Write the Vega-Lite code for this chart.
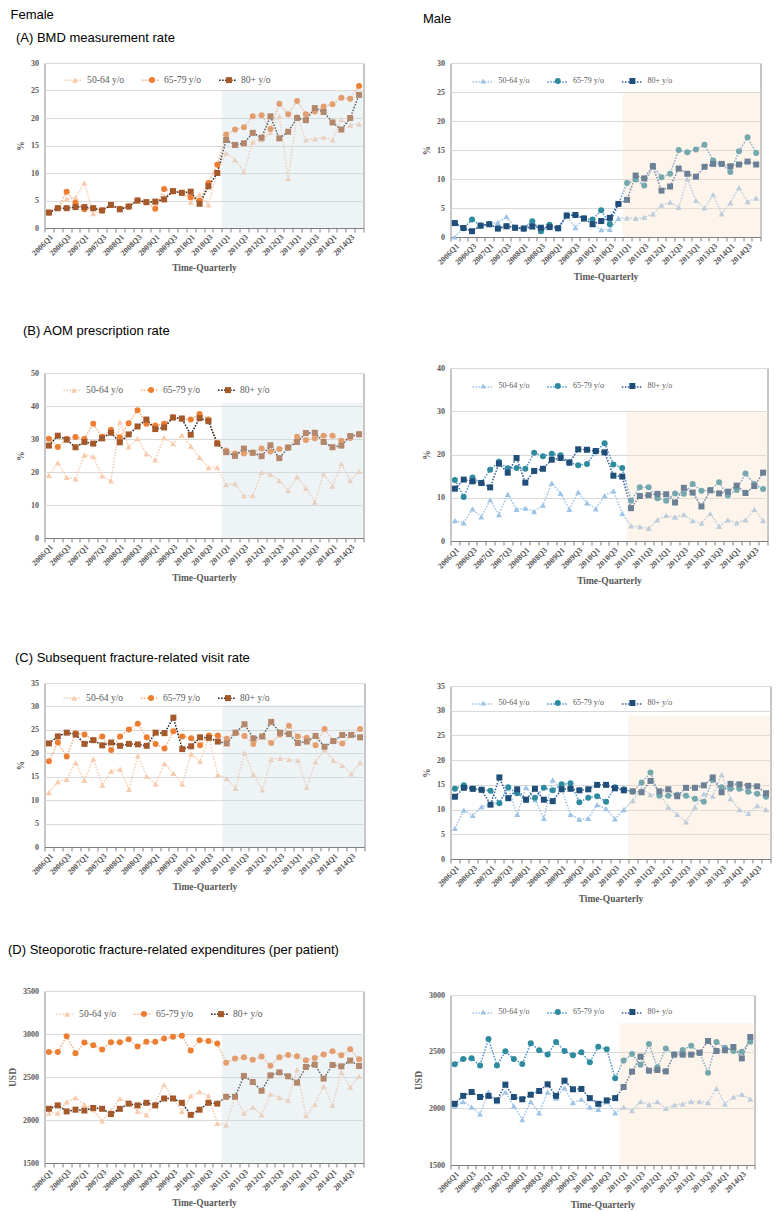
{
"$schema":"https://vega.github.io/schema/vega-lite/v6.json",
"padding":{"left":6.5,"top":8,"right":2,"bottom":2},
"spacing":46,
"resolve":{"scale":{"x":"independent","y":"independent","stroke":"independent","fill":"independent","shape":"independent"},"legend":{"stroke":"independent","fill":"independent","shape":"independent"},"axis":{"x":"independent","y":"independent"}},
"config":{
 "view":{"stroke":"#8c8c8c","strokeWidth":1},
 "font":"Liberation Serif",
 "axis":{"labelFont":"Liberation Serif","labelFontWeight":"bold","labelColor":"#595959","labelFontSize":8,"titleFont":"Liberation Serif","titleFontWeight":"bold","titleColor":"#595959","titleFontSize":9.5},
 "axisX":{"labelAngle":-45,"tickSize":4,"tickColor":"#7f7f7f","domainColor":"#7f7f7f","grid":false,"labelPadding":1,"titlePadding":5},
 "axisY":{"grid":true,"gridColor":"#d9d9d9","ticks":false,"domain":false,"labelPadding":6,"titlePadding":5},
 "title":{"font":"Liberation Sans","fontSize":13,"fontWeight":"normal","anchor":"start","color":"#000000","frame":"bounds"},
 "legend":{"orient":"none","direction":"horizontal","labelFont":"Liberation Serif","labelColor":"#595959","title":null}
},
"hconcat":[
{"title":{"text":"Female","offset":10,"dx":3.5},
 "spacing":51,
 "resolve":{"scale":{"x":"independent","y":"independent","stroke":"independent","fill":"independent","shape":"independent"},"legend":{"stroke":"independent","fill":"independent","shape":"independent"},"axis":{"x":"independent","y":"independent"}},
 "vconcat":[
 {"title":{"text":"(A) BMD measurement rate","offset":14,"dx":0.5},"width":319,"height":165,"data":{"name":"fA"},
  "encoding":{"x":{"field":"q","type":"ordinal","title":"Time-Quarterly","bandPosition":0.5,"scale":{"type":"band","paddingInner":0,"paddingOuter":0,"domain":["2006Q1","2006Q2","2006Q3","2006Q4","2007Q1","2007Q2","2007Q3","2007Q4","2008Q1","2008Q2","2008Q3","2008Q4","2009Q1","2009Q2","2009Q3","2009Q4","2010Q1","2010Q2","2010Q3","2010Q4","2011Q1","2011Q2","2011Q3","2011Q4","2012Q1","2012Q2","2012Q3","2012Q4","2013Q1","2013Q2","2013Q3","2013Q4","2014Q1","2014Q2","2014Q3","2014Q4"]},"axis":{"tickBand":"extent","labelOverlap":false,"labelExpr":"(substring(datum.value,5,6)=='1'||substring(datum.value,5,6)=='3')?datum.value:''"}},
   "y":{"field":"v","type":"quantitative","title":"%","scale":{"domain":[0,30]},"axis":{"values":[0,5,10,15,20,25,30]}}},
  "layer":[
   {"mark":{"type":"line","strokeDash":[1.5,1.5],"strokeWidth":1.5},"encoding":{"stroke":{"field":"g","type":"nominal","scale":{"domain":["50-64 y/o","65-79 y/o","80+ y/o","zz"],"range":["#F8CBAD","#F4B183","#1a1a1a","#ffffff"]},"legend":{"values":["50-64 y/o","65-79 y/o","80+ y/o"],"legendX":19,"legendY":7,"symbolType":"stroke","symbolSize":324,"symbolStrokeWidth":1.5,"symbolDash":[1.5,1.5],"labelOffset":0.5,"labelExpr":"''","labelFontSize":9.6,"columnPadding":53.3}}}},
   {"mark":{"type":"point","filled":true,"size":36,"opacity":1,"strokeWidth":0},"encoding":{"fill":{"field":"g","type":"nominal","scale":{"domain":["50-64 y/o","65-79 y/o","80+ y/o"],"range":["#F8CBAD","#ED7D31","#A5592B"]},"legend":{"legendX":25.75,"legendY":12,"symbolSize":36,"symbolStrokeWidth":0,"labelOffset":7.25,"labelFontSize":9.6,"columnPadding":22.95}},"shape":{"field":"g","type":"nominal","scale":{"domain":["50-64 y/o","65-79 y/o","80+ y/o"],"range":["triangle-up","circle","square"]}}}},
   {"data":{"values":[{"q":"2011Q1","e":"2014Q4","lo":0,"hi":25}]},"mark":{"type":"rect","fill":"#CEDDE5","opacity":0.35},
    "encoding":{"x":{"field":"q","type":"ordinal","title":"Time-Quarterly","bandPosition":0,"scale":{"type":"band","paddingInner":0,"paddingOuter":0,"domain":["2006Q1","2006Q2","2006Q3","2006Q4","2007Q1","2007Q2","2007Q3","2007Q4","2008Q1","2008Q2","2008Q3","2008Q4","2009Q1","2009Q2","2009Q3","2009Q4","2010Q1","2010Q2","2010Q3","2010Q4","2011Q1","2011Q2","2011Q3","2011Q4","2012Q1","2012Q2","2012Q3","2012Q4","2013Q1","2013Q2","2013Q3","2013Q4","2014Q1","2014Q2","2014Q3","2014Q4"]}},"x2":{"field":"e","bandPosition":1},"y":{"field":"lo","type":"quantitative","title":"%"},"y2":{"field":"hi"}}}
  ]},
 {"title":{"text":"(B) AOM prescription rate","offset":31,"dx":7.5},"width":319,"height":165,"data":{"name":"fB"},
  "encoding":{"x":{"field":"q","type":"ordinal","title":"Time-Quarterly","bandPosition":0.5,"scale":{"type":"band","paddingInner":0,"paddingOuter":0,"domain":["2006Q1","2006Q2","2006Q3","2006Q4","2007Q1","2007Q2","2007Q3","2007Q4","2008Q1","2008Q2","2008Q3","2008Q4","2009Q1","2009Q2","2009Q3","2009Q4","2010Q1","2010Q2","2010Q3","2010Q4","2011Q1","2011Q2","2011Q3","2011Q4","2012Q1","2012Q2","2012Q3","2012Q4","2013Q1","2013Q2","2013Q3","2013Q4","2014Q1","2014Q2","2014Q3","2014Q4"]},"axis":{"tickBand":"extent","labelOverlap":false,"labelExpr":"(substring(datum.value,5,6)=='1'||substring(datum.value,5,6)=='3')?datum.value:''"}},
   "y":{"field":"v","type":"quantitative","title":"%","scale":{"domain":[0,50]},"axis":{"values":[0,10,20,30,40,50]}}},
  "layer":[
   {"mark":{"type":"line","strokeDash":[1.5,1.5],"strokeWidth":1.5},"encoding":{"stroke":{"field":"g","type":"nominal","scale":{"domain":["50-64 y/o","65-79 y/o","80+ y/o","zz"],"range":["#F8CBAD","#F4B183","#1a1a1a","#ffffff"]},"legend":{"values":["50-64 y/o","65-79 y/o","80+ y/o"],"legendX":18,"legendY":7,"symbolType":"stroke","symbolSize":324,"symbolStrokeWidth":1.5,"symbolDash":[1.5,1.5],"labelOffset":0.5,"labelExpr":"''","labelFontSize":9.6,"columnPadding":53.3}}}},
   {"mark":{"type":"point","filled":true,"size":36,"opacity":1,"strokeWidth":0},"encoding":{"fill":{"field":"g","type":"nominal","scale":{"domain":["50-64 y/o","65-79 y/o","80+ y/o"],"range":["#F8CBAD","#ED7D31","#A5592B"]},"legend":{"legendX":24.75,"legendY":12,"symbolSize":36,"symbolStrokeWidth":0,"labelOffset":7.25,"labelFontSize":9.6,"columnPadding":22.95}},"shape":{"field":"g","type":"nominal","scale":{"domain":["50-64 y/o","65-79 y/o","80+ y/o"],"range":["triangle-up","circle","square"]}}}},
   {"data":{"values":[{"q":"2011Q1","e":"2014Q4","lo":0,"hi":41}]},"mark":{"type":"rect","fill":"#CEDDE5","opacity":0.35},
    "encoding":{"x":{"field":"q","type":"ordinal","title":"Time-Quarterly","bandPosition":0,"scale":{"type":"band","paddingInner":0,"paddingOuter":0,"domain":["2006Q1","2006Q2","2006Q3","2006Q4","2007Q1","2007Q2","2007Q3","2007Q4","2008Q1","2008Q2","2008Q3","2008Q4","2009Q1","2009Q2","2009Q3","2009Q4","2010Q1","2010Q2","2010Q3","2010Q4","2011Q1","2011Q2","2011Q3","2011Q4","2012Q1","2012Q2","2012Q3","2012Q4","2013Q1","2013Q2","2013Q3","2013Q4","2014Q1","2014Q2","2014Q3","2014Q4"]}},"x2":{"field":"e","bandPosition":1},"y":{"field":"lo","type":"quantitative","title":"%"},"y2":{"field":"hi"}}}
  ]},
 {"title":{"text":["","(C) Subsequent fracture-related visit rate"],"lineHeight":17,"offset":14,"dx":-0.5},"width":320,"height":164,"data":{"name":"fC"},
  "encoding":{"x":{"field":"q","type":"ordinal","title":"Time-Quarterly","bandPosition":0.5,"scale":{"type":"band","paddingInner":0,"paddingOuter":0,"domain":["2006Q1","2006Q2","2006Q3","2006Q4","2007Q1","2007Q2","2007Q3","2007Q4","2008Q1","2008Q2","2008Q3","2008Q4","2009Q1","2009Q2","2009Q3","2009Q4","2010Q1","2010Q2","2010Q3","2010Q4","2011Q1","2011Q2","2011Q3","2011Q4","2012Q1","2012Q2","2012Q3","2012Q4","2013Q1","2013Q2","2013Q3","2013Q4","2014Q1","2014Q2","2014Q3","2014Q4"]},"axis":{"tickBand":"extent","labelOverlap":false,"labelExpr":"(substring(datum.value,5,6)=='1'||substring(datum.value,5,6)=='3')?datum.value:''"}},
   "y":{"field":"v","type":"quantitative","title":"%","scale":{"domain":[0,35]},"axis":{"values":[0,5,10,15,20,25,30,35]}}},
  "layer":[
   {"mark":{"type":"line","strokeDash":[1.5,1.5],"strokeWidth":1.5},"encoding":{"stroke":{"field":"g","type":"nominal","scale":{"domain":["50-64 y/o","65-79 y/o","80+ y/o","zz"],"range":["#F8CBAD","#F4B183","#1a1a1a","#ffffff"]},"legend":{"values":["50-64 y/o","65-79 y/o","80+ y/o"],"legendX":18,"legendY":5,"symbolType":"stroke","symbolSize":324,"symbolStrokeWidth":1.5,"symbolDash":[1.5,1.5],"labelOffset":0.5,"labelExpr":"''","labelFontSize":9.6,"columnPadding":53.3}}}},
   {"mark":{"type":"point","filled":true,"size":36,"opacity":1,"strokeWidth":0},"encoding":{"fill":{"field":"g","type":"nominal","scale":{"domain":["50-64 y/o","65-79 y/o","80+ y/o"],"range":["#F8CBAD","#ED7D31","#A5592B"]},"legend":{"legendX":24.75,"legendY":10,"symbolSize":36,"symbolStrokeWidth":0,"labelOffset":7.25,"labelFontSize":9.6,"columnPadding":22.95}},"shape":{"field":"g","type":"nominal","scale":{"domain":["50-64 y/o","65-79 y/o","80+ y/o"],"range":["triangle-up","circle","square"]}}}},
   {"data":{"values":[{"q":"2011Q1","e":"2014Q4","lo":0,"hi":30.3}]},"mark":{"type":"rect","fill":"#CEDDE5","opacity":0.35},
    "encoding":{"x":{"field":"q","type":"ordinal","title":"Time-Quarterly","bandPosition":0,"scale":{"type":"band","paddingInner":0,"paddingOuter":0,"domain":["2006Q1","2006Q2","2006Q3","2006Q4","2007Q1","2007Q2","2007Q3","2007Q4","2008Q1","2008Q2","2008Q3","2008Q4","2009Q1","2009Q2","2009Q3","2009Q4","2010Q1","2010Q2","2010Q3","2010Q4","2011Q1","2011Q2","2011Q3","2011Q4","2012Q1","2012Q2","2012Q3","2012Q4","2013Q1","2013Q2","2013Q3","2013Q4","2014Q1","2014Q2","2014Q3","2014Q4"]}},"x2":{"field":"e","bandPosition":1},"y":{"field":"lo","type":"quantitative","title":"%"},"y2":{"field":"hi"}}}
  ]},
 {"title":{"text":"(D) Steoporotic fracture-related expenditures (per patient)","offset":30,"dx":0.5},"width":319,"height":172,"data":{"name":"fD"},
  "encoding":{"x":{"field":"q","type":"ordinal","title":"Time-Quarterly","bandPosition":0.5,"scale":{"type":"band","paddingInner":0,"paddingOuter":0,"domain":["2006Q1","2006Q2","2006Q3","2006Q4","2007Q1","2007Q2","2007Q3","2007Q4","2008Q1","2008Q2","2008Q3","2008Q4","2009Q1","2009Q2","2009Q3","2009Q4","2010Q1","2010Q2","2010Q3","2010Q4","2011Q1","2011Q2","2011Q3","2011Q4","2012Q1","2012Q2","2012Q3","2012Q4","2013Q1","2013Q2","2013Q3","2013Q4","2014Q1","2014Q2","2014Q3","2014Q4"]},"axis":{"tickBand":"extent","labelOverlap":false,"labelExpr":"(substring(datum.value,5,6)=='1'||substring(datum.value,5,6)=='3')?datum.value:''"}},
   "y":{"field":"v","type":"quantitative","title":"USD","scale":{"domain":[1500,3500]},"axis":{"values":[1500,2000,2500,3000,3500],"format":"d"}}},
  "layer":[
   {"mark":{"type":"line","strokeDash":[1.5,1.5],"strokeWidth":1.5},"encoding":{"stroke":{"field":"g","type":"nominal","scale":{"domain":["50-64 y/o","65-79 y/o","80+ y/o","zz"],"range":["#F8CBAD","#F4B183","#1a1a1a","#ffffff"]},"legend":{"values":["50-64 y/o","65-79 y/o","80+ y/o"],"legendX":11,"legendY":13,"symbolType":"stroke","symbolSize":324,"symbolStrokeWidth":1.5,"symbolDash":[1.5,1.5],"labelOffset":0.5,"labelExpr":"''","labelFontSize":9.6,"columnPadding":53.3}}}},
   {"mark":{"type":"point","filled":true,"size":36,"opacity":1,"strokeWidth":0},"encoding":{"fill":{"field":"g","type":"nominal","scale":{"domain":["50-64 y/o","65-79 y/o","80+ y/o"],"range":["#F8CBAD","#ED7D31","#A5592B"]},"legend":{"legendX":17.75,"legendY":18,"symbolSize":36,"symbolStrokeWidth":0,"labelOffset":7.25,"labelFontSize":9.6,"columnPadding":22.95}},"shape":{"field":"g","type":"nominal","scale":{"domain":["50-64 y/o","65-79 y/o","80+ y/o"],"range":["triangle-up","circle","square"]}}}},
   {"data":{"values":[{"q":"2011Q1","e":"2014Q4","lo":1500,"hi":3000}]},"mark":{"type":"rect","fill":"#CEDDE5","opacity":0.35},
    "encoding":{"x":{"field":"q","type":"ordinal","title":"Time-Quarterly","bandPosition":0,"scale":{"type":"band","paddingInner":0,"paddingOuter":0,"domain":["2006Q1","2006Q2","2006Q3","2006Q4","2007Q1","2007Q2","2007Q3","2007Q4","2008Q1","2008Q2","2008Q3","2008Q4","2009Q1","2009Q2","2009Q3","2009Q4","2010Q1","2010Q2","2010Q3","2010Q4","2011Q1","2011Q2","2011Q3","2011Q4","2012Q1","2012Q2","2012Q3","2012Q4","2013Q1","2013Q2","2013Q3","2013Q4","2014Q1","2014Q2","2014Q3","2014Q4"]}},"x2":{"field":"e","bandPosition":1},"y":{"field":"lo","type":"quantitative","title":"USD"},"y2":{"field":"hi"}}}
  ]}
 ]},
{"title":{"text":"Male","offset":10,"dx":10},
 "spacing":51,
 "resolve":{"scale":{"x":"independent","y":"independent","stroke":"independent","fill":"independent","shape":"independent"},"legend":{"stroke":"independent","fill":"independent","shape":"independent"},"axis":{"x":"independent","y":"independent"}},
 "vconcat":[
 {"title":{"text":" ","offset":10},"width":310,"height":174,"data":{"name":"mA"},
  "encoding":{"x":{"field":"q","type":"ordinal","title":"Time-Quarterly","bandPosition":0.5,"scale":{"type":"band","paddingInner":0,"paddingOuter":0,"domain":["2006Q1","2006Q2","2006Q3","2006Q4","2007Q1","2007Q2","2007Q3","2007Q4","2008Q1","2008Q2","2008Q3","2008Q4","2009Q1","2009Q2","2009Q3","2009Q4","2010Q1","2010Q2","2010Q3","2010Q4","2011Q1","2011Q2","2011Q3","2011Q4","2012Q1","2012Q2","2012Q3","2012Q4","2013Q1","2013Q2","2013Q3","2013Q4","2014Q1","2014Q2","2014Q3","2014Q4"]},"axis":{"tickBand":"extent","labelOverlap":false,"labelExpr":"(substring(datum.value,5,6)=='1'||substring(datum.value,5,6)=='3')?datum.value:''"}},
   "y":{"field":"v","type":"quantitative","title":"%","scale":{"domain":[0,30]},"axis":{"values":[0,5,10,15,20,25,30]}}},
  "layer":[
   {"mark":{"type":"line","strokeDash":[1.5,1.5],"strokeWidth":1.5},"encoding":{"stroke":{"field":"g","type":"nominal","scale":{"domain":["50-64 y/o","65-79 y/o","80+ y/o","zz"],"range":["#9DC3E6","#4A8FD0","#2F5597","#ffffff"]},"legend":{"values":["50-64 y/o","65-79 y/o","80+ y/o"],"legendX":21,"legendY":8,"symbolType":"stroke","symbolSize":400,"symbolStrokeWidth":1.5,"symbolDash":[1.5,1.5],"labelOffset":3.5,"labelExpr":"''","labelFontSize":8,"columnPadding":46.7}}}},
   {"mark":{"type":"point","filled":true,"size":36,"opacity":1,"strokeWidth":0},"encoding":{"fill":{"field":"g","type":"nominal","scale":{"domain":["50-64 y/o","65-79 y/o","80+ y/o"],"range":["#9DC3E6","#2E8B9E","#1F4E79"]},"legend":{"legendX":28.75,"legendY":14,"symbolSize":36,"symbolStrokeWidth":0,"labelOffset":11.25,"labelFontSize":8,"columnPadding":23.55}},"shape":{"field":"g","type":"nominal","scale":{"domain":["50-64 y/o","65-79 y/o","80+ y/o"],"range":["triangle-up","circle","square"]}}}},
   {"data":{"values":[{"q":"2011Q1","e":"2014Q4","lo":0,"hi":25}]},"mark":{"type":"rect","fill":"#F9DFC9","opacity":0.35},
    "encoding":{"x":{"field":"q","type":"ordinal","title":"Time-Quarterly","bandPosition":0,"scale":{"type":"band","paddingInner":0,"paddingOuter":0,"domain":["2006Q1","2006Q2","2006Q3","2006Q4","2007Q1","2007Q2","2007Q3","2007Q4","2008Q1","2008Q2","2008Q3","2008Q4","2009Q1","2009Q2","2009Q3","2009Q4","2010Q1","2010Q2","2010Q3","2010Q4","2011Q1","2011Q2","2011Q3","2011Q4","2012Q1","2012Q2","2012Q3","2012Q4","2013Q1","2013Q2","2013Q3","2013Q4","2014Q1","2014Q2","2014Q3","2014Q4"]}},"x2":{"field":"e","bandPosition":1},"y":{"field":"lo","type":"quantitative","title":"%"},"y2":{"field":"hi"}}}
  ]},
 {"title":{"text":" ","offset":17},"width":317,"height":173,"data":{"name":"mB"},
  "encoding":{"x":{"field":"q","type":"ordinal","title":"Time-Quarterly","bandPosition":0.5,"scale":{"type":"band","paddingInner":0,"paddingOuter":0,"domain":["2006Q1","2006Q2","2006Q3","2006Q4","2007Q1","2007Q2","2007Q3","2007Q4","2008Q1","2008Q2","2008Q3","2008Q4","2009Q1","2009Q2","2009Q3","2009Q4","2010Q1","2010Q2","2010Q3","2010Q4","2011Q1","2011Q2","2011Q3","2011Q4","2012Q1","2012Q2","2012Q3","2012Q4","2013Q1","2013Q2","2013Q3","2013Q4","2014Q1","2014Q2","2014Q3","2014Q4"]},"axis":{"tickBand":"extent","labelOverlap":false,"labelExpr":"(substring(datum.value,5,6)=='1'||substring(datum.value,5,6)=='3')?datum.value:''"}},
   "y":{"field":"v","type":"quantitative","title":"%","scale":{"domain":[0,40]},"axis":{"values":[0,10,20,30,40]}}},
  "layer":[
   {"mark":{"type":"line","strokeDash":[1.5,1.5],"strokeWidth":1.5},"encoding":{"stroke":{"field":"g","type":"nominal","scale":{"domain":["50-64 y/o","65-79 y/o","80+ y/o","zz"],"range":["#9DC3E6","#4A8FD0","#2F5597","#ffffff"]},"legend":{"values":["50-64 y/o","65-79 y/o","80+ y/o"],"legendX":21,"legendY":8,"symbolType":"stroke","symbolSize":400,"symbolStrokeWidth":1.5,"symbolDash":[1.5,1.5],"labelOffset":3.5,"labelExpr":"''","labelFontSize":8,"columnPadding":46.7}}}},
   {"mark":{"type":"point","filled":true,"size":36,"opacity":1,"strokeWidth":0},"encoding":{"fill":{"field":"g","type":"nominal","scale":{"domain":["50-64 y/o","65-79 y/o","80+ y/o"],"range":["#9DC3E6","#2E8B9E","#1F4E79"]},"legend":{"legendX":28.75,"legendY":14,"symbolSize":36,"symbolStrokeWidth":0,"labelOffset":11.25,"labelFontSize":8,"columnPadding":23.55}},"shape":{"field":"g","type":"nominal","scale":{"domain":["50-64 y/o","65-79 y/o","80+ y/o"],"range":["triangle-up","circle","square"]}}}},
   {"data":{"values":[{"q":"2011Q1","e":"2014Q4","lo":0,"hi":30}]},"mark":{"type":"rect","fill":"#F9DFC9","opacity":0.35},
    "encoding":{"x":{"field":"q","type":"ordinal","title":"Time-Quarterly","bandPosition":0,"scale":{"type":"band","paddingInner":0,"paddingOuter":0,"domain":["2006Q1","2006Q2","2006Q3","2006Q4","2007Q1","2007Q2","2007Q3","2007Q4","2008Q1","2008Q2","2008Q3","2008Q4","2009Q1","2009Q2","2009Q3","2009Q4","2010Q1","2010Q2","2010Q3","2010Q4","2011Q1","2011Q2","2011Q3","2011Q4","2012Q1","2012Q2","2012Q3","2012Q4","2013Q1","2013Q2","2013Q3","2013Q4","2014Q1","2014Q2","2014Q3","2014Q4"]}},"x2":{"field":"e","bandPosition":1},"y":{"field":"lo","type":"quantitative","title":"%"},"y2":{"field":"hi"}}}
  ]},
 {"title":{"text":" ","offset":31},"width":320,"height":173,"data":{"name":"mC"},
  "encoding":{"x":{"field":"q","type":"ordinal","title":"Time-Quarterly","bandPosition":0.5,"scale":{"type":"band","paddingInner":0,"paddingOuter":0,"domain":["2006Q1","2006Q2","2006Q3","2006Q4","2007Q1","2007Q2","2007Q3","2007Q4","2008Q1","2008Q2","2008Q3","2008Q4","2009Q1","2009Q2","2009Q3","2009Q4","2010Q1","2010Q2","2010Q3","2010Q4","2011Q1","2011Q2","2011Q3","2011Q4","2012Q1","2012Q2","2012Q3","2012Q4","2013Q1","2013Q2","2013Q3","2013Q4","2014Q1","2014Q2","2014Q3","2014Q4"]},"axis":{"tickBand":"extent","labelOverlap":false,"labelExpr":"(substring(datum.value,5,6)=='1'||substring(datum.value,5,6)=='3')?datum.value:''"}},
   "y":{"field":"v","type":"quantitative","title":"%","scale":{"domain":[0,35]},"axis":{"values":[0,5,10,15,20,25,30,35]}}},
  "layer":[
   {"mark":{"type":"line","strokeDash":[1.5,1.5],"strokeWidth":1.5},"encoding":{"stroke":{"field":"g","type":"nominal","scale":{"domain":["50-64 y/o","65-79 y/o","80+ y/o","zz"],"range":["#9DC3E6","#4A8FD0","#2F5597","#ffffff"]},"legend":{"values":["50-64 y/o","65-79 y/o","80+ y/o"],"legendX":21,"legendY":7,"symbolType":"stroke","symbolSize":400,"symbolStrokeWidth":1.5,"symbolDash":[1.5,1.5],"labelOffset":3.5,"labelExpr":"''","labelFontSize":8,"columnPadding":46.7}}}},
   {"mark":{"type":"point","filled":true,"size":36,"opacity":1,"strokeWidth":0},"encoding":{"fill":{"field":"g","type":"nominal","scale":{"domain":["50-64 y/o","65-79 y/o","80+ y/o"],"range":["#9DC3E6","#2E8B9E","#1F4E79"]},"legend":{"legendX":28.75,"legendY":13,"symbolSize":36,"symbolStrokeWidth":0,"labelOffset":11.25,"labelFontSize":8,"columnPadding":23.55}},"shape":{"field":"g","type":"nominal","scale":{"domain":["50-64 y/o","65-79 y/o","80+ y/o"],"range":["triangle-up","circle","square"]}}}},
   {"data":{"values":[{"q":"2011Q1","e":"2014Q4","lo":0,"hi":29}]},"mark":{"type":"rect","fill":"#F9DFC9","opacity":0.35},
    "encoding":{"x":{"field":"q","type":"ordinal","title":"Time-Quarterly","bandPosition":0,"scale":{"type":"band","paddingInner":0,"paddingOuter":0,"domain":["2006Q1","2006Q2","2006Q3","2006Q4","2007Q1","2007Q2","2007Q3","2007Q4","2008Q1","2008Q2","2008Q3","2008Q4","2009Q1","2009Q2","2009Q3","2009Q4","2010Q1","2010Q2","2010Q3","2010Q4","2011Q1","2011Q2","2011Q3","2011Q4","2012Q1","2012Q2","2012Q3","2012Q4","2013Q1","2013Q2","2013Q3","2013Q4","2014Q1","2014Q2","2014Q3","2014Q4"]}},"x2":{"field":"e","bandPosition":1},"y":{"field":"lo","type":"quantitative","title":"%"},"y2":{"field":"hi"}}}
  ]},
 {"title":{"text":" ","offset":22},"width":304,"height":170,"data":{"name":"mD"},
  "encoding":{"x":{"field":"q","type":"ordinal","title":"Time-Quarterly","bandPosition":0.5,"scale":{"type":"band","paddingInner":0,"paddingOuter":0,"domain":["2006Q1","2006Q2","2006Q3","2006Q4","2007Q1","2007Q2","2007Q3","2007Q4","2008Q1","2008Q2","2008Q3","2008Q4","2009Q1","2009Q2","2009Q3","2009Q4","2010Q1","2010Q2","2010Q3","2010Q4","2011Q1","2011Q2","2011Q3","2011Q4","2012Q1","2012Q2","2012Q3","2012Q4","2013Q1","2013Q2","2013Q3","2013Q4","2014Q1","2014Q2","2014Q3","2014Q4"]},"axis":{"tickBand":"extent","labelOverlap":false,"labelExpr":"(substring(datum.value,5,6)=='1'||substring(datum.value,5,6)=='3')?datum.value:''"}},
   "y":{"field":"v","type":"quantitative","title":"USD","scale":{"domain":[1500,3000]},"axis":{"values":[1500,2000,2500,3000],"format":"d"}}},
  "layer":[
   {"mark":{"type":"line","strokeDash":[1.5,1.5],"strokeWidth":1.5},"encoding":{"stroke":{"field":"g","type":"nominal","scale":{"domain":["50-64 y/o","65-79 y/o","80+ y/o","zz"],"range":["#9DC3E6","#4A8FD0","#2F5597","#ffffff"]},"legend":{"values":["50-64 y/o","65-79 y/o","80+ y/o"],"legendX":21,"legendY":7,"symbolType":"stroke","symbolSize":400,"symbolStrokeWidth":1.5,"symbolDash":[1.5,1.5],"labelOffset":3.5,"labelExpr":"''","labelFontSize":8,"columnPadding":46.7}}}},
   {"mark":{"type":"point","filled":true,"size":36,"opacity":1,"strokeWidth":0},"encoding":{"fill":{"field":"g","type":"nominal","scale":{"domain":["50-64 y/o","65-79 y/o","80+ y/o"],"range":["#9DC3E6","#2E8B9E","#1F4E79"]},"legend":{"legendX":28.75,"legendY":13,"symbolSize":36,"symbolStrokeWidth":0,"labelOffset":11.25,"labelFontSize":8,"columnPadding":23.55}},"shape":{"field":"g","type":"nominal","scale":{"domain":["50-64 y/o","65-79 y/o","80+ y/o"],"range":["triangle-up","circle","square"]}}}},
   {"data":{"values":[{"q":"2011Q1","e":"2014Q4","lo":1500,"hi":2750}]},"mark":{"type":"rect","fill":"#F9DFC9","opacity":0.35},
    "encoding":{"x":{"field":"q","type":"ordinal","title":"Time-Quarterly","bandPosition":0,"scale":{"type":"band","paddingInner":0,"paddingOuter":0,"domain":["2006Q1","2006Q2","2006Q3","2006Q4","2007Q1","2007Q2","2007Q3","2007Q4","2008Q1","2008Q2","2008Q3","2008Q4","2009Q1","2009Q2","2009Q3","2009Q4","2010Q1","2010Q2","2010Q3","2010Q4","2011Q1","2011Q2","2011Q3","2011Q4","2012Q1","2012Q2","2012Q3","2012Q4","2013Q1","2013Q2","2013Q3","2013Q4","2014Q1","2014Q2","2014Q3","2014Q4"]}},"x2":{"field":"e","bandPosition":1},"y":{"field":"lo","type":"quantitative","title":"USD"},"y2":{"field":"hi"}}}
  ]}
 ]}
],
"datasets":{
"fA":[
{"q":"2006Q1","g":"50-64 y/o","v":2.8},{"q":"2006Q2","g":"50-64 y/o","v":3.7},{"q":"2006Q3","g":"50-64 y/o","v":5.3},{"q":"2006Q4","g":"50-64 y/o","v":5.5},{"q":"2007Q1","g":"50-64 y/o","v":8.2},{"q":"2007Q2","g":"50-64 y/o","v":2.6},{"q":"2007Q3","g":"50-64 y/o","v":3.2},{"q":"2007Q4","g":"50-64 y/o","v":4.2},{"q":"2008Q1","g":"50-64 y/o","v":3.6},{"q":"2008Q2","g":"50-64 y/o","v":3.9},{"q":"2008Q3","g":"50-64 y/o","v":5.0},{"q":"2008Q4","g":"50-64 y/o","v":4.7},{"q":"2009Q1","g":"50-64 y/o","v":4.6},{"q":"2009Q2","g":"50-64 y/o","v":5.8},{"q":"2009Q3","g":"50-64 y/o","v":6.7},{"q":"2009Q4","g":"50-64 y/o","v":6.4},{"q":"2010Q1","g":"50-64 y/o","v":4.7},{"q":"2010Q2","g":"50-64 y/o","v":6.1},{"q":"2010Q3","g":"50-64 y/o","v":4.2},{"q":"2010Q4","g":"50-64 y/o","v":10.3},{"q":"2011Q1","g":"50-64 y/o","v":13.6},{"q":"2011Q2","g":"50-64 y/o","v":12.4},{"q":"2011Q3","g":"50-64 y/o","v":10.2},{"q":"2011Q4","g":"50-64 y/o","v":15.6},{"q":"2012Q1","g":"50-64 y/o","v":16.0},{"q":"2012Q2","g":"50-64 y/o","v":17.4},{"q":"2012Q3","g":"50-64 y/o","v":20.3},{"q":"2012Q4","g":"50-64 y/o","v":9.0},{"q":"2013Q1","g":"50-64 y/o","v":20.5},{"q":"2013Q2","g":"50-64 y/o","v":16.0},{"q":"2013Q3","g":"50-64 y/o","v":16.2},{"q":"2013Q4","g":"50-64 y/o","v":16.5},{"q":"2014Q1","g":"50-64 y/o","v":16.0},{"q":"2014Q2","g":"50-64 y/o","v":19.7},{"q":"2014Q3","g":"50-64 y/o","v":18.7},{"q":"2014Q4","g":"50-64 y/o","v":18.9},
{"q":"2006Q1","g":"65-79 y/o","v":2.8},{"q":"2006Q2","g":"65-79 y/o","v":3.6},{"q":"2006Q3","g":"65-79 y/o","v":6.6},{"q":"2006Q4","g":"65-79 y/o","v":4.6},{"q":"2007Q1","g":"65-79 y/o","v":3.4},{"q":"2007Q2","g":"65-79 y/o","v":3.6},{"q":"2007Q3","g":"65-79 y/o","v":3.2},{"q":"2007Q4","g":"65-79 y/o","v":4.2},{"q":"2008Q1","g":"65-79 y/o","v":3.5},{"q":"2008Q2","g":"65-79 y/o","v":3.9},{"q":"2008Q3","g":"65-79 y/o","v":5.0},{"q":"2008Q4","g":"65-79 y/o","v":4.7},{"q":"2009Q1","g":"65-79 y/o","v":3.5},{"q":"2009Q2","g":"65-79 y/o","v":7.1},{"q":"2009Q3","g":"65-79 y/o","v":6.7},{"q":"2009Q4","g":"65-79 y/o","v":6.4},{"q":"2010Q1","g":"65-79 y/o","v":5.6},{"q":"2010Q2","g":"65-79 y/o","v":5.0},{"q":"2010Q3","g":"65-79 y/o","v":8.2},{"q":"2010Q4","g":"65-79 y/o","v":11.5},{"q":"2011Q1","g":"65-79 y/o","v":17.0},{"q":"2011Q2","g":"65-79 y/o","v":17.9},{"q":"2011Q3","g":"65-79 y/o","v":18.3},{"q":"2011Q4","g":"65-79 y/o","v":20.3},{"q":"2012Q1","g":"65-79 y/o","v":20.5},{"q":"2012Q2","g":"65-79 y/o","v":18.0},{"q":"2012Q3","g":"65-79 y/o","v":22.6},{"q":"2012Q4","g":"65-79 y/o","v":20.7},{"q":"2013Q1","g":"65-79 y/o","v":23.1},{"q":"2013Q2","g":"65-79 y/o","v":20.7},{"q":"2013Q3","g":"65-79 y/o","v":21.2},{"q":"2013Q4","g":"65-79 y/o","v":22.1},{"q":"2014Q1","g":"65-79 y/o","v":22.5},{"q":"2014Q2","g":"65-79 y/o","v":23.7},{"q":"2014Q3","g":"65-79 y/o","v":23.5},{"q":"2014Q4","g":"65-79 y/o","v":25.8},
{"q":"2006Q1","g":"80+ y/o","v":2.8},{"q":"2006Q2","g":"80+ y/o","v":3.6},{"q":"2006Q3","g":"80+ y/o","v":3.6},{"q":"2006Q4","g":"80+ y/o","v":3.8},{"q":"2007Q1","g":"80+ y/o","v":3.8},{"q":"2007Q2","g":"80+ y/o","v":3.6},{"q":"2007Q3","g":"80+ y/o","v":3.2},{"q":"2007Q4","g":"80+ y/o","v":4.2},{"q":"2008Q1","g":"80+ y/o","v":3.4},{"q":"2008Q2","g":"80+ y/o","v":3.9},{"q":"2008Q3","g":"80+ y/o","v":5.0},{"q":"2008Q4","g":"80+ y/o","v":4.7},{"q":"2009Q1","g":"80+ y/o","v":4.8},{"q":"2009Q2","g":"80+ y/o","v":5.2},{"q":"2009Q3","g":"80+ y/o","v":6.7},{"q":"2009Q4","g":"80+ y/o","v":6.4},{"q":"2010Q1","g":"80+ y/o","v":6.6},{"q":"2010Q2","g":"80+ y/o","v":4.4},{"q":"2010Q3","g":"80+ y/o","v":7.6},{"q":"2010Q4","g":"80+ y/o","v":10.0},{"q":"2011Q1","g":"80+ y/o","v":16.0},{"q":"2011Q2","g":"80+ y/o","v":15.1},{"q":"2011Q3","g":"80+ y/o","v":15.4},{"q":"2011Q4","g":"80+ y/o","v":17.3},{"q":"2012Q1","g":"80+ y/o","v":16.4},{"q":"2012Q2","g":"80+ y/o","v":20.3},{"q":"2012Q3","g":"80+ y/o","v":16.3},{"q":"2012Q4","g":"80+ y/o","v":17.5},{"q":"2013Q1","g":"80+ y/o","v":20.0},{"q":"2013Q2","g":"80+ y/o","v":19.6},{"q":"2013Q3","g":"80+ y/o","v":21.8},{"q":"2013Q4","g":"80+ y/o","v":21.1},{"q":"2014Q1","g":"80+ y/o","v":19.2},{"q":"2014Q2","g":"80+ y/o","v":17.9},{"q":"2014Q3","g":"80+ y/o","v":20.0},{"q":"2014Q4","g":"80+ y/o","v":24.2}
],
"mA":[
{"q":"2006Q1","g":"50-64 y/o","v":0.0},{"q":"2006Q2","g":"50-64 y/o","v":1.5},{"q":"2006Q3","g":"50-64 y/o","v":1.0},{"q":"2006Q4","g":"50-64 y/o","v":2.0},{"q":"2007Q1","g":"50-64 y/o","v":2.2},{"q":"2007Q2","g":"50-64 y/o","v":2.5},{"q":"2007Q3","g":"50-64 y/o","v":3.5},{"q":"2007Q4","g":"50-64 y/o","v":1.6},{"q":"2008Q1","g":"50-64 y/o","v":1.45},{"q":"2008Q2","g":"50-64 y/o","v":2.7},{"q":"2008Q3","g":"50-64 y/o","v":1.0},{"q":"2008Q4","g":"50-64 y/o","v":2.1},{"q":"2009Q1","g":"50-64 y/o","v":1.5},{"q":"2009Q2","g":"50-64 y/o","v":3.7},{"q":"2009Q3","g":"50-64 y/o","v":1.6},{"q":"2009Q4","g":"50-64 y/o","v":3.2},{"q":"2010Q1","g":"50-64 y/o","v":2.2},{"q":"2010Q2","g":"50-64 y/o","v":1.25},{"q":"2010Q3","g":"50-64 y/o","v":1.3},{"q":"2010Q4","g":"50-64 y/o","v":3.2},{"q":"2011Q1","g":"50-64 y/o","v":3.3},{"q":"2011Q2","g":"50-64 y/o","v":3.2},{"q":"2011Q3","g":"50-64 y/o","v":3.4},{"q":"2011Q4","g":"50-64 y/o","v":4.0},{"q":"2012Q1","g":"50-64 y/o","v":5.5},{"q":"2012Q2","g":"50-64 y/o","v":6.0},{"q":"2012Q3","g":"50-64 y/o","v":5.1},{"q":"2012Q4","g":"50-64 y/o","v":10.0},{"q":"2013Q1","g":"50-64 y/o","v":6.3},{"q":"2013Q2","g":"50-64 y/o","v":5.0},{"q":"2013Q3","g":"50-64 y/o","v":7.3},{"q":"2013Q4","g":"50-64 y/o","v":4.0},{"q":"2014Q1","g":"50-64 y/o","v":5.9},{"q":"2014Q2","g":"50-64 y/o","v":8.5},{"q":"2014Q3","g":"50-64 y/o","v":6.1},{"q":"2014Q4","g":"50-64 y/o","v":6.7},
{"q":"2006Q1","g":"65-79 y/o","v":2.4},{"q":"2006Q2","g":"65-79 y/o","v":1.5},{"q":"2006Q3","g":"65-79 y/o","v":3.0},{"q":"2006Q4","g":"65-79 y/o","v":2.0},{"q":"2007Q1","g":"65-79 y/o","v":2.2},{"q":"2007Q2","g":"65-79 y/o","v":1.5},{"q":"2007Q3","g":"65-79 y/o","v":1.85},{"q":"2007Q4","g":"65-79 y/o","v":1.6},{"q":"2008Q1","g":"65-79 y/o","v":1.45},{"q":"2008Q2","g":"65-79 y/o","v":2.7},{"q":"2008Q3","g":"65-79 y/o","v":1.0},{"q":"2008Q4","g":"65-79 y/o","v":2.1},{"q":"2009Q1","g":"65-79 y/o","v":1.5},{"q":"2009Q2","g":"65-79 y/o","v":3.7},{"q":"2009Q3","g":"65-79 y/o","v":3.8},{"q":"2009Q4","g":"65-79 y/o","v":3.2},{"q":"2010Q1","g":"65-79 y/o","v":3.0},{"q":"2010Q2","g":"65-79 y/o","v":4.6},{"q":"2010Q3","g":"65-79 y/o","v":2.2},{"q":"2010Q4","g":"65-79 y/o","v":5.7},{"q":"2011Q1","g":"65-79 y/o","v":9.3},{"q":"2011Q2","g":"65-79 y/o","v":9.9},{"q":"2011Q3","g":"65-79 y/o","v":8.9},{"q":"2011Q4","g":"65-79 y/o","v":12.3},{"q":"2012Q1","g":"65-79 y/o","v":10.3},{"q":"2012Q2","g":"65-79 y/o","v":10.9},{"q":"2012Q3","g":"65-79 y/o","v":15.0},{"q":"2012Q4","g":"65-79 y/o","v":14.6},{"q":"2013Q1","g":"65-79 y/o","v":15.1},{"q":"2013Q2","g":"65-79 y/o","v":15.9},{"q":"2013Q3","g":"65-79 y/o","v":13.2},{"q":"2013Q4","g":"65-79 y/o","v":12.6},{"q":"2014Q1","g":"65-79 y/o","v":11.2},{"q":"2014Q2","g":"65-79 y/o","v":14.8},{"q":"2014Q3","g":"65-79 y/o","v":17.2},{"q":"2014Q4","g":"65-79 y/o","v":14.5},
{"q":"2006Q1","g":"80+ y/o","v":2.4},{"q":"2006Q2","g":"80+ y/o","v":1.55},{"q":"2006Q3","g":"80+ y/o","v":1.0},{"q":"2006Q4","g":"80+ y/o","v":1.95},{"q":"2007Q1","g":"80+ y/o","v":2.2},{"q":"2007Q2","g":"80+ y/o","v":1.45},{"q":"2007Q3","g":"80+ y/o","v":1.85},{"q":"2007Q4","g":"80+ y/o","v":1.6},{"q":"2008Q1","g":"80+ y/o","v":1.45},{"q":"2008Q2","g":"80+ y/o","v":1.8},{"q":"2008Q3","g":"80+ y/o","v":1.6},{"q":"2008Q4","g":"80+ y/o","v":1.7},{"q":"2009Q1","g":"80+ y/o","v":1.5},{"q":"2009Q2","g":"80+ y/o","v":3.7},{"q":"2009Q3","g":"80+ y/o","v":3.8},{"q":"2009Q4","g":"80+ y/o","v":3.2},{"q":"2010Q1","g":"80+ y/o","v":2.2},{"q":"2010Q2","g":"80+ y/o","v":2.75},{"q":"2010Q3","g":"80+ y/o","v":3.3},{"q":"2010Q4","g":"80+ y/o","v":5.7},{"q":"2011Q1","g":"80+ y/o","v":6.4},{"q":"2011Q2","g":"80+ y/o","v":10.6},{"q":"2011Q3","g":"80+ y/o","v":10.1},{"q":"2011Q4","g":"80+ y/o","v":12.2},{"q":"2012Q1","g":"80+ y/o","v":8.0},{"q":"2012Q2","g":"80+ y/o","v":8.7},{"q":"2012Q3","g":"80+ y/o","v":11.8},{"q":"2012Q4","g":"80+ y/o","v":10.9},{"q":"2013Q1","g":"80+ y/o","v":10.4},{"q":"2013Q2","g":"80+ y/o","v":12.1},{"q":"2013Q3","g":"80+ y/o","v":12.6},{"q":"2013Q4","g":"80+ y/o","v":12.6},{"q":"2014Q1","g":"80+ y/o","v":12.2},{"q":"2014Q2","g":"80+ y/o","v":12.5},{"q":"2014Q3","g":"80+ y/o","v":13.0},{"q":"2014Q4","g":"80+ y/o","v":12.5}
],
"fB":[
{"q":"2006Q1","g":"50-64 y/o","v":19.0},{"q":"2006Q2","g":"50-64 y/o","v":22.8},{"q":"2006Q3","g":"50-64 y/o","v":18.4},{"q":"2006Q4","g":"50-64 y/o","v":17.9},{"q":"2007Q1","g":"50-64 y/o","v":25.1},{"q":"2007Q2","g":"50-64 y/o","v":24.7},{"q":"2007Q3","g":"50-64 y/o","v":18.8},{"q":"2007Q4","g":"50-64 y/o","v":17.3},{"q":"2008Q1","g":"50-64 y/o","v":35.1},{"q":"2008Q2","g":"50-64 y/o","v":27.6},{"q":"2008Q3","g":"50-64 y/o","v":30.1},{"q":"2008Q4","g":"50-64 y/o","v":25.5},{"q":"2009Q1","g":"50-64 y/o","v":23.7},{"q":"2009Q2","g":"50-64 y/o","v":30.4},{"q":"2009Q3","g":"50-64 y/o","v":28.6},{"q":"2009Q4","g":"50-64 y/o","v":31.2},{"q":"2010Q1","g":"50-64 y/o","v":27.8},{"q":"2010Q2","g":"50-64 y/o","v":24.4},{"q":"2010Q3","g":"50-64 y/o","v":21.3},{"q":"2010Q4","g":"50-64 y/o","v":21.4},{"q":"2011Q1","g":"50-64 y/o","v":16.2},{"q":"2011Q2","g":"50-64 y/o","v":16.5},{"q":"2011Q3","g":"50-64 y/o","v":12.8},{"q":"2011Q4","g":"50-64 y/o","v":12.8},{"q":"2012Q1","g":"50-64 y/o","v":19.9},{"q":"2012Q2","g":"50-64 y/o","v":19.3},{"q":"2012Q3","g":"50-64 y/o","v":17.4},{"q":"2012Q4","g":"50-64 y/o","v":14.4},{"q":"2013Q1","g":"50-64 y/o","v":18.5},{"q":"2013Q2","g":"50-64 y/o","v":15.1},{"q":"2013Q3","g":"50-64 y/o","v":10.9},{"q":"2013Q4","g":"50-64 y/o","v":19.4},{"q":"2014Q1","g":"50-64 y/o","v":15.7},{"q":"2014Q2","g":"50-64 y/o","v":22.5},{"q":"2014Q3","g":"50-64 y/o","v":17.4},{"q":"2014Q4","g":"50-64 y/o","v":20.2},
{"q":"2006Q1","g":"65-79 y/o","v":30.1},{"q":"2006Q2","g":"65-79 y/o","v":27.6},{"q":"2006Q3","g":"65-79 y/o","v":30.0},{"q":"2006Q4","g":"65-79 y/o","v":30.6},{"q":"2007Q1","g":"65-79 y/o","v":30.0},{"q":"2007Q2","g":"65-79 y/o","v":34.6},{"q":"2007Q3","g":"65-79 y/o","v":30.7},{"q":"2007Q4","g":"65-79 y/o","v":32.8},{"q":"2008Q1","g":"65-79 y/o","v":30.5},{"q":"2008Q2","g":"65-79 y/o","v":34.8},{"q":"2008Q3","g":"65-79 y/o","v":38.7},{"q":"2008Q4","g":"65-79 y/o","v":34.6},{"q":"2009Q1","g":"65-79 y/o","v":34.1},{"q":"2009Q2","g":"65-79 y/o","v":34.6},{"q":"2009Q3","g":"65-79 y/o","v":36.6},{"q":"2009Q4","g":"65-79 y/o","v":36.1},{"q":"2010Q1","g":"65-79 y/o","v":35.9},{"q":"2010Q2","g":"65-79 y/o","v":37.6},{"q":"2010Q3","g":"65-79 y/o","v":35.9},{"q":"2010Q4","g":"65-79 y/o","v":28.8},{"q":"2011Q1","g":"65-79 y/o","v":26.5},{"q":"2011Q2","g":"65-79 y/o","v":25.6},{"q":"2011Q3","g":"65-79 y/o","v":25.6},{"q":"2011Q4","g":"65-79 y/o","v":25.9},{"q":"2012Q1","g":"65-79 y/o","v":27.1},{"q":"2012Q2","g":"65-79 y/o","v":26.2},{"q":"2012Q3","g":"65-79 y/o","v":27.0},{"q":"2012Q4","g":"65-79 y/o","v":27.4},{"q":"2013Q1","g":"65-79 y/o","v":30.7},{"q":"2013Q2","g":"65-79 y/o","v":29.7},{"q":"2013Q3","g":"65-79 y/o","v":30.2},{"q":"2013Q4","g":"65-79 y/o","v":31.0},{"q":"2014Q1","g":"65-79 y/o","v":31.0},{"q":"2014Q2","g":"65-79 y/o","v":29.5},{"q":"2014Q3","g":"65-79 y/o","v":30.3},{"q":"2014Q4","g":"65-79 y/o","v":31.5},
{"q":"2006Q1","g":"80+ y/o","v":28.0},{"q":"2006Q2","g":"80+ y/o","v":31.0},{"q":"2006Q3","g":"80+ y/o","v":29.8},{"q":"2006Q4","g":"80+ y/o","v":27.5},{"q":"2007Q1","g":"80+ y/o","v":29.1},{"q":"2007Q2","g":"80+ y/o","v":28.6},{"q":"2007Q3","g":"80+ y/o","v":30.2},{"q":"2007Q4","g":"80+ y/o","v":31.9},{"q":"2008Q1","g":"80+ y/o","v":29.0},{"q":"2008Q2","g":"80+ y/o","v":31.4},{"q":"2008Q3","g":"80+ y/o","v":33.8},{"q":"2008Q4","g":"80+ y/o","v":35.9},{"q":"2009Q1","g":"80+ y/o","v":33.0},{"q":"2009Q2","g":"80+ y/o","v":33.5},{"q":"2009Q3","g":"80+ y/o","v":36.5},{"q":"2009Q4","g":"80+ y/o","v":36.2},{"q":"2010Q1","g":"80+ y/o","v":31.3},{"q":"2010Q2","g":"80+ y/o","v":36.3},{"q":"2010Q3","g":"80+ y/o","v":35.4},{"q":"2010Q4","g":"80+ y/o","v":28.6},{"q":"2011Q1","g":"80+ y/o","v":26.0},{"q":"2011Q2","g":"80+ y/o","v":24.9},{"q":"2011Q3","g":"80+ y/o","v":27.1},{"q":"2011Q4","g":"80+ y/o","v":25.8},{"q":"2012Q1","g":"80+ y/o","v":24.8},{"q":"2012Q2","g":"80+ y/o","v":28.1},{"q":"2012Q3","g":"80+ y/o","v":24.2},{"q":"2012Q4","g":"80+ y/o","v":27.4},{"q":"2013Q1","g":"80+ y/o","v":29.1},{"q":"2013Q2","g":"80+ y/o","v":31.8},{"q":"2013Q3","g":"80+ y/o","v":31.9},{"q":"2013Q4","g":"80+ y/o","v":29.1},{"q":"2014Q1","g":"80+ y/o","v":27.5},{"q":"2014Q2","g":"80+ y/o","v":28.0},{"q":"2014Q3","g":"80+ y/o","v":30.9},{"q":"2014Q4","g":"80+ y/o","v":31.4}
],
"mB":[
{"q":"2006Q1","g":"50-64 y/o","v":4.7},{"q":"2006Q2","g":"50-64 y/o","v":4.2},{"q":"2006Q3","g":"50-64 y/o","v":7.4},{"q":"2006Q4","g":"50-64 y/o","v":5.6},{"q":"2007Q1","g":"50-64 y/o","v":9.5},{"q":"2007Q2","g":"50-64 y/o","v":6.1},{"q":"2007Q3","g":"50-64 y/o","v":10.8},{"q":"2007Q4","g":"50-64 y/o","v":7.3},{"q":"2008Q1","g":"50-64 y/o","v":7.6},{"q":"2008Q2","g":"50-64 y/o","v":6.8},{"q":"2008Q3","g":"50-64 y/o","v":8.3},{"q":"2008Q4","g":"50-64 y/o","v":13.4},{"q":"2009Q1","g":"50-64 y/o","v":11.0},{"q":"2009Q2","g":"50-64 y/o","v":7.3},{"q":"2009Q3","g":"50-64 y/o","v":11.3},{"q":"2009Q4","g":"50-64 y/o","v":8.8},{"q":"2010Q1","g":"50-64 y/o","v":7.4},{"q":"2010Q2","g":"50-64 y/o","v":10.5},{"q":"2010Q3","g":"50-64 y/o","v":11.6},{"q":"2010Q4","g":"50-64 y/o","v":6.4},{"q":"2011Q1","g":"50-64 y/o","v":3.5},{"q":"2011Q2","g":"50-64 y/o","v":3.3},{"q":"2011Q3","g":"50-64 y/o","v":2.9},{"q":"2011Q4","g":"50-64 y/o","v":4.9},{"q":"2012Q1","g":"50-64 y/o","v":5.9},{"q":"2012Q2","g":"50-64 y/o","v":5.5},{"q":"2012Q3","g":"50-64 y/o","v":6.1},{"q":"2012Q4","g":"50-64 y/o","v":4.7},{"q":"2013Q1","g":"50-64 y/o","v":4.1},{"q":"2013Q2","g":"50-64 y/o","v":6.3},{"q":"2013Q3","g":"50-64 y/o","v":3.4},{"q":"2013Q4","g":"50-64 y/o","v":4.9},{"q":"2014Q1","g":"50-64 y/o","v":4.2},{"q":"2014Q2","g":"50-64 y/o","v":4.9},{"q":"2014Q3","g":"50-64 y/o","v":7.3},{"q":"2014Q4","g":"50-64 y/o","v":4.7},
{"q":"2006Q1","g":"65-79 y/o","v":14.1},{"q":"2006Q2","g":"65-79 y/o","v":10.2},{"q":"2006Q3","g":"65-79 y/o","v":14.7},{"q":"2006Q4","g":"65-79 y/o","v":13.4},{"q":"2007Q1","g":"65-79 y/o","v":16.5},{"q":"2007Q2","g":"65-79 y/o","v":18.3},{"q":"2007Q3","g":"65-79 y/o","v":16.8},{"q":"2007Q4","g":"65-79 y/o","v":16.9},{"q":"2008Q1","g":"65-79 y/o","v":16.7},{"q":"2008Q2","g":"65-79 y/o","v":20.4},{"q":"2008Q3","g":"65-79 y/o","v":19.6},{"q":"2008Q4","g":"65-79 y/o","v":20.2},{"q":"2009Q1","g":"65-79 y/o","v":19.8},{"q":"2009Q2","g":"65-79 y/o","v":18.2},{"q":"2009Q3","g":"65-79 y/o","v":17.5},{"q":"2009Q4","g":"65-79 y/o","v":17.8},{"q":"2010Q1","g":"65-79 y/o","v":20.7},{"q":"2010Q2","g":"65-79 y/o","v":22.6},{"q":"2010Q3","g":"65-79 y/o","v":17.7},{"q":"2010Q4","g":"65-79 y/o","v":16.9},{"q":"2011Q1","g":"65-79 y/o","v":9.3},{"q":"2011Q2","g":"65-79 y/o","v":12.4},{"q":"2011Q3","g":"65-79 y/o","v":12.4},{"q":"2011Q4","g":"65-79 y/o","v":9.9},{"q":"2012Q1","g":"65-79 y/o","v":9.3},{"q":"2012Q2","g":"65-79 y/o","v":11.0},{"q":"2012Q3","g":"65-79 y/o","v":10.9},{"q":"2012Q4","g":"65-79 y/o","v":13.2},{"q":"2013Q1","g":"65-79 y/o","v":11.6},{"q":"2013Q2","g":"65-79 y/o","v":11.8},{"q":"2013Q3","g":"65-79 y/o","v":13.6},{"q":"2013Q4","g":"65-79 y/o","v":10.5},{"q":"2014Q1","g":"65-79 y/o","v":11.8},{"q":"2014Q2","g":"65-79 y/o","v":15.6},{"q":"2014Q3","g":"65-79 y/o","v":13.2},{"q":"2014Q4","g":"65-79 y/o","v":12.0},
{"q":"2006Q1","g":"80+ y/o","v":12.1},{"q":"2006Q2","g":"80+ y/o","v":14.2},{"q":"2006Q3","g":"80+ y/o","v":13.8},{"q":"2006Q4","g":"80+ y/o","v":13.4},{"q":"2007Q1","g":"80+ y/o","v":12.4},{"q":"2007Q2","g":"80+ y/o","v":17.9},{"q":"2007Q3","g":"80+ y/o","v":15.8},{"q":"2007Q4","g":"80+ y/o","v":19.2},{"q":"2008Q1","g":"80+ y/o","v":13.5},{"q":"2008Q2","g":"80+ y/o","v":16.2},{"q":"2008Q3","g":"80+ y/o","v":16.7},{"q":"2008Q4","g":"80+ y/o","v":18.8},{"q":"2009Q1","g":"80+ y/o","v":19.2},{"q":"2009Q2","g":"80+ y/o","v":18.1},{"q":"2009Q3","g":"80+ y/o","v":21.2},{"q":"2009Q4","g":"80+ y/o","v":21.1},{"q":"2010Q1","g":"80+ y/o","v":20.8},{"q":"2010Q2","g":"80+ y/o","v":20.5},{"q":"2010Q3","g":"80+ y/o","v":15.1},{"q":"2010Q4","g":"80+ y/o","v":14.9},{"q":"2011Q1","g":"80+ y/o","v":7.6},{"q":"2011Q2","g":"80+ y/o","v":10.4},{"q":"2011Q3","g":"80+ y/o","v":10.6},{"q":"2011Q4","g":"80+ y/o","v":10.9},{"q":"2012Q1","g":"80+ y/o","v":10.8},{"q":"2012Q2","g":"80+ y/o","v":8.9},{"q":"2012Q3","g":"80+ y/o","v":12.3},{"q":"2012Q4","g":"80+ y/o","v":11.2},{"q":"2013Q1","g":"80+ y/o","v":8.0},{"q":"2013Q2","g":"80+ y/o","v":11.7},{"q":"2013Q3","g":"80+ y/o","v":11.0},{"q":"2013Q4","g":"80+ y/o","v":11.4},{"q":"2014Q1","g":"80+ y/o","v":12.8},{"q":"2014Q2","g":"80+ y/o","v":11.1},{"q":"2014Q3","g":"80+ y/o","v":12.7},{"q":"2014Q4","g":"80+ y/o","v":15.8}
],
"fC":[
{"q":"2006Q1","g":"50-64 y/o","v":11.6},{"q":"2006Q2","g":"50-64 y/o","v":13.9},{"q":"2006Q3","g":"50-64 y/o","v":14.4},{"q":"2006Q4","g":"50-64 y/o","v":18.0},{"q":"2007Q1","g":"50-64 y/o","v":14.2},{"q":"2007Q2","g":"50-64 y/o","v":18.8},{"q":"2007Q3","g":"50-64 y/o","v":13.2},{"q":"2007Q4","g":"50-64 y/o","v":16.2},{"q":"2008Q1","g":"50-64 y/o","v":16.6},{"q":"2008Q2","g":"50-64 y/o","v":12.3},{"q":"2008Q3","g":"50-64 y/o","v":19.5},{"q":"2008Q4","g":"50-64 y/o","v":15.1},{"q":"2009Q1","g":"50-64 y/o","v":13.4},{"q":"2009Q2","g":"50-64 y/o","v":17.8},{"q":"2009Q3","g":"50-64 y/o","v":15.7},{"q":"2009Q4","g":"50-64 y/o","v":13.4},{"q":"2010Q1","g":"50-64 y/o","v":19.8},{"q":"2010Q2","g":"50-64 y/o","v":18.3},{"q":"2010Q3","g":"50-64 y/o","v":23.3},{"q":"2010Q4","g":"50-64 y/o","v":15.4},{"q":"2011Q1","g":"50-64 y/o","v":14.6},{"q":"2011Q2","g":"50-64 y/o","v":12.5},{"q":"2011Q3","g":"50-64 y/o","v":20.1},{"q":"2011Q4","g":"50-64 y/o","v":15.5},{"q":"2012Q1","g":"50-64 y/o","v":12.2},{"q":"2012Q2","g":"50-64 y/o","v":18.7},{"q":"2012Q3","g":"50-64 y/o","v":18.9},{"q":"2012Q4","g":"50-64 y/o","v":18.7},{"q":"2013Q1","g":"50-64 y/o","v":18.5},{"q":"2013Q2","g":"50-64 y/o","v":12.7},{"q":"2013Q3","g":"50-64 y/o","v":18.2},{"q":"2013Q4","g":"50-64 y/o","v":20.8},{"q":"2014Q1","g":"50-64 y/o","v":18.5},{"q":"2014Q2","g":"50-64 y/o","v":17.4},{"q":"2014Q3","g":"50-64 y/o","v":15.6},{"q":"2014Q4","g":"50-64 y/o","v":18.0},
{"q":"2006Q1","g":"65-79 y/o","v":18.3},{"q":"2006Q2","g":"65-79 y/o","v":22.3},{"q":"2006Q3","g":"65-79 y/o","v":19.3},{"q":"2006Q4","g":"65-79 y/o","v":24.3},{"q":"2007Q1","g":"65-79 y/o","v":24.0},{"q":"2007Q2","g":"65-79 y/o","v":22.8},{"q":"2007Q3","g":"65-79 y/o","v":23.6},{"q":"2007Q4","g":"65-79 y/o","v":20.7},{"q":"2008Q1","g":"65-79 y/o","v":23.6},{"q":"2008Q2","g":"65-79 y/o","v":25.1},{"q":"2008Q3","g":"65-79 y/o","v":26.3},{"q":"2008Q4","g":"65-79 y/o","v":23.4},{"q":"2009Q1","g":"65-79 y/o","v":22.0},{"q":"2009Q2","g":"65-79 y/o","v":21.0},{"q":"2009Q3","g":"65-79 y/o","v":24.7},{"q":"2009Q4","g":"65-79 y/o","v":23.6},{"q":"2010Q1","g":"65-79 y/o","v":23.2},{"q":"2010Q2","g":"65-79 y/o","v":21.7},{"q":"2010Q3","g":"65-79 y/o","v":23.8},{"q":"2010Q4","g":"65-79 y/o","v":23.8},{"q":"2011Q1","g":"65-79 y/o","v":23.1},{"q":"2011Q2","g":"65-79 y/o","v":24.4},{"q":"2011Q3","g":"65-79 y/o","v":23.7},{"q":"2011Q4","g":"65-79 y/o","v":22.0},{"q":"2012Q1","g":"65-79 y/o","v":23.6},{"q":"2012Q2","g":"65-79 y/o","v":22.2},{"q":"2012Q3","g":"65-79 y/o","v":24.0},{"q":"2012Q4","g":"65-79 y/o","v":25.9},{"q":"2013Q1","g":"65-79 y/o","v":23.6},{"q":"2013Q2","g":"65-79 y/o","v":23.3},{"q":"2013Q3","g":"65-79 y/o","v":21.7},{"q":"2013Q4","g":"65-79 y/o","v":25.2},{"q":"2014Q1","g":"65-79 y/o","v":22.6},{"q":"2014Q2","g":"65-79 y/o","v":22.1},{"q":"2014Q3","g":"65-79 y/o","v":23.9},{"q":"2014Q4","g":"65-79 y/o","v":25.2},
{"q":"2006Q1","g":"80+ y/o","v":22.1},{"q":"2006Q2","g":"80+ y/o","v":23.6},{"q":"2006Q3","g":"80+ y/o","v":24.4},{"q":"2006Q4","g":"80+ y/o","v":24.0},{"q":"2007Q1","g":"80+ y/o","v":22.0},{"q":"2007Q2","g":"80+ y/o","v":22.8},{"q":"2007Q3","g":"80+ y/o","v":21.7},{"q":"2007Q4","g":"80+ y/o","v":22.3},{"q":"2008Q1","g":"80+ y/o","v":21.6},{"q":"2008Q2","g":"80+ y/o","v":22.0},{"q":"2008Q3","g":"80+ y/o","v":21.9},{"q":"2008Q4","g":"80+ y/o","v":21.6},{"q":"2009Q1","g":"80+ y/o","v":24.4},{"q":"2009Q2","g":"80+ y/o","v":24.3},{"q":"2009Q3","g":"80+ y/o","v":27.6},{"q":"2009Q4","g":"80+ y/o","v":20.9},{"q":"2010Q1","g":"80+ y/o","v":21.5},{"q":"2010Q2","g":"80+ y/o","v":23.4},{"q":"2010Q3","g":"80+ y/o","v":23.3},{"q":"2010Q4","g":"80+ y/o","v":22.5},{"q":"2011Q1","g":"80+ y/o","v":22.1},{"q":"2011Q2","g":"80+ y/o","v":24.4},{"q":"2011Q3","g":"80+ y/o","v":26.2},{"q":"2011Q4","g":"80+ y/o","v":23.2},{"q":"2012Q1","g":"80+ y/o","v":23.6},{"q":"2012Q2","g":"80+ y/o","v":26.7},{"q":"2012Q3","g":"80+ y/o","v":24.4},{"q":"2012Q4","g":"80+ y/o","v":24.1},{"q":"2013Q1","g":"80+ y/o","v":22.2},{"q":"2013Q2","g":"80+ y/o","v":22.5},{"q":"2013Q3","g":"80+ y/o","v":23.7},{"q":"2013Q4","g":"80+ y/o","v":21.4},{"q":"2014Q1","g":"80+ y/o","v":22.6},{"q":"2014Q2","g":"80+ y/o","v":23.9},{"q":"2014Q3","g":"80+ y/o","v":23.9},{"q":"2014Q4","g":"80+ y/o","v":23.4}
],
"mC":[
{"q":"2006Q1","g":"50-64 y/o","v":6.2},{"q":"2006Q2","g":"50-64 y/o","v":9.9},{"q":"2006Q3","g":"50-64 y/o","v":8.8},{"q":"2006Q4","g":"50-64 y/o","v":10.6},{"q":"2007Q1","g":"50-64 y/o","v":11.0},{"q":"2007Q2","g":"50-64 y/o","v":11.5},{"q":"2007Q3","g":"50-64 y/o","v":14.4},{"q":"2007Q4","g":"50-64 y/o","v":9.0},{"q":"2008Q1","g":"50-64 y/o","v":14.5},{"q":"2008Q2","g":"50-64 y/o","v":12.0},{"q":"2008Q3","g":"50-64 y/o","v":8.2},{"q":"2008Q4","g":"50-64 y/o","v":16.0},{"q":"2009Q1","g":"50-64 y/o","v":14.1},{"q":"2009Q2","g":"50-64 y/o","v":9.0},{"q":"2009Q3","g":"50-64 y/o","v":8.0},{"q":"2009Q4","g":"50-64 y/o","v":8.2},{"q":"2010Q1","g":"50-64 y/o","v":11.0},{"q":"2010Q2","g":"50-64 y/o","v":10.2},{"q":"2010Q3","g":"50-64 y/o","v":8.1},{"q":"2010Q4","g":"50-64 y/o","v":10.0},{"q":"2011Q1","g":"50-64 y/o","v":11.8},{"q":"2011Q2","g":"50-64 y/o","v":14.2},{"q":"2011Q3","g":"50-64 y/o","v":13.0},{"q":"2011Q4","g":"50-64 y/o","v":13.1},{"q":"2012Q1","g":"50-64 y/o","v":10.5},{"q":"2012Q2","g":"50-64 y/o","v":9.0},{"q":"2012Q3","g":"50-64 y/o","v":7.5},{"q":"2012Q4","g":"50-64 y/o","v":10.5},{"q":"2013Q1","g":"50-64 y/o","v":13.2},{"q":"2013Q2","g":"50-64 y/o","v":12.7},{"q":"2013Q3","g":"50-64 y/o","v":17.1},{"q":"2013Q4","g":"50-64 y/o","v":12.2},{"q":"2014Q1","g":"50-64 y/o","v":10.0},{"q":"2014Q2","g":"50-64 y/o","v":9.2},{"q":"2014Q3","g":"50-64 y/o","v":10.8},{"q":"2014Q4","g":"50-64 y/o","v":10.0},
{"q":"2006Q1","g":"65-79 y/o","v":14.2},{"q":"2006Q2","g":"65-79 y/o","v":14.9},{"q":"2006Q3","g":"65-79 y/o","v":14.2},{"q":"2006Q4","g":"65-79 y/o","v":14.0},{"q":"2007Q1","g":"65-79 y/o","v":13.8},{"q":"2007Q2","g":"65-79 y/o","v":11.3},{"q":"2007Q3","g":"65-79 y/o","v":14.5},{"q":"2007Q4","g":"65-79 y/o","v":13.3},{"q":"2008Q1","g":"65-79 y/o","v":12.0},{"q":"2008Q2","g":"65-79 y/o","v":12.4},{"q":"2008Q3","g":"65-79 y/o","v":14.4},{"q":"2008Q4","g":"65-79 y/o","v":13.9},{"q":"2009Q1","g":"65-79 y/o","v":15.1},{"q":"2009Q2","g":"65-79 y/o","v":15.3},{"q":"2009Q3","g":"65-79 y/o","v":11.5},{"q":"2009Q4","g":"65-79 y/o","v":12.4},{"q":"2010Q1","g":"65-79 y/o","v":12.7},{"q":"2010Q2","g":"65-79 y/o","v":11.6},{"q":"2010Q3","g":"65-79 y/o","v":14.5},{"q":"2010Q4","g":"65-79 y/o","v":14.1},{"q":"2011Q1","g":"65-79 y/o","v":13.6},{"q":"2011Q2","g":"65-79 y/o","v":15.5},{"q":"2011Q3","g":"65-79 y/o","v":17.5},{"q":"2011Q4","g":"65-79 y/o","v":12.8},{"q":"2012Q1","g":"65-79 y/o","v":12.8},{"q":"2012Q2","g":"65-79 y/o","v":13.0},{"q":"2012Q3","g":"65-79 y/o","v":12.8},{"q":"2012Q4","g":"65-79 y/o","v":12.2},{"q":"2013Q1","g":"65-79 y/o","v":11.6},{"q":"2013Q2","g":"65-79 y/o","v":16.0},{"q":"2013Q3","g":"65-79 y/o","v":14.5},{"q":"2013Q4","g":"65-79 y/o","v":14.2},{"q":"2014Q1","g":"65-79 y/o","v":14.2},{"q":"2014Q2","g":"65-79 y/o","v":13.6},{"q":"2014Q3","g":"65-79 y/o","v":13.2},{"q":"2014Q4","g":"65-79 y/o","v":12.6},
{"q":"2006Q1","g":"80+ y/o","v":12.6},{"q":"2006Q2","g":"80+ y/o","v":14.4},{"q":"2006Q3","g":"80+ y/o","v":14.2},{"q":"2006Q4","g":"80+ y/o","v":14.0},{"q":"2007Q1","g":"80+ y/o","v":11.0},{"q":"2007Q2","g":"80+ y/o","v":16.5},{"q":"2007Q3","g":"80+ y/o","v":12.3},{"q":"2007Q4","g":"80+ y/o","v":14.1},{"q":"2008Q1","g":"80+ y/o","v":12.0},{"q":"2008Q2","g":"80+ y/o","v":14.2},{"q":"2008Q3","g":"80+ y/o","v":12.0},{"q":"2008Q4","g":"80+ y/o","v":11.7},{"q":"2009Q1","g":"80+ y/o","v":14.1},{"q":"2009Q2","g":"80+ y/o","v":14.2},{"q":"2009Q3","g":"80+ y/o","v":13.9},{"q":"2009Q4","g":"80+ y/o","v":14.1},{"q":"2010Q1","g":"80+ y/o","v":15.0},{"q":"2010Q2","g":"80+ y/o","v":15.0},{"q":"2010Q3","g":"80+ y/o","v":14.3},{"q":"2010Q4","g":"80+ y/o","v":13.9},{"q":"2011Q1","g":"80+ y/o","v":13.7},{"q":"2011Q2","g":"80+ y/o","v":13.5},{"q":"2011Q3","g":"80+ y/o","v":15.8},{"q":"2011Q4","g":"80+ y/o","v":13.7},{"q":"2012Q1","g":"80+ y/o","v":14.1},{"q":"2012Q2","g":"80+ y/o","v":12.7},{"q":"2012Q3","g":"80+ y/o","v":14.4},{"q":"2012Q4","g":"80+ y/o","v":14.4},{"q":"2013Q1","g":"80+ y/o","v":14.9},{"q":"2013Q2","g":"80+ y/o","v":16.5},{"q":"2013Q3","g":"80+ y/o","v":13.5},{"q":"2013Q4","g":"80+ y/o","v":15.2},{"q":"2014Q1","g":"80+ y/o","v":15.1},{"q":"2014Q2","g":"80+ y/o","v":14.8},{"q":"2014Q3","g":"80+ y/o","v":14.7},{"q":"2014Q4","g":"80+ y/o","v":13.3}
],
"fD":[
{"q":"2006Q1","g":"50-64 y/o","v":2080},{"q":"2006Q2","g":"50-64 y/o","v":2080},{"q":"2006Q3","g":"50-64 y/o","v":2210},{"q":"2006Q4","g":"50-64 y/o","v":2260},{"q":"2007Q1","g":"50-64 y/o","v":2180},{"q":"2007Q2","g":"50-64 y/o","v":2120},{"q":"2007Q3","g":"50-64 y/o","v":1990},{"q":"2007Q4","g":"50-64 y/o","v":2110},{"q":"2008Q1","g":"50-64 y/o","v":2250},{"q":"2008Q2","g":"50-64 y/o","v":2200},{"q":"2008Q3","g":"50-64 y/o","v":2100},{"q":"2008Q4","g":"50-64 y/o","v":2060},{"q":"2009Q1","g":"50-64 y/o","v":2200},{"q":"2009Q2","g":"50-64 y/o","v":2410},{"q":"2009Q3","g":"50-64 y/o","v":2250},{"q":"2009Q4","g":"50-64 y/o","v":2100},{"q":"2010Q1","g":"50-64 y/o","v":2280},{"q":"2010Q2","g":"50-64 y/o","v":2330},{"q":"2010Q3","g":"50-64 y/o","v":2280},{"q":"2010Q4","g":"50-64 y/o","v":1960},{"q":"2011Q1","g":"50-64 y/o","v":1940},{"q":"2011Q2","g":"50-64 y/o","v":2270},{"q":"2011Q3","g":"50-64 y/o","v":2080},{"q":"2011Q4","g":"50-64 y/o","v":2150},{"q":"2012Q1","g":"50-64 y/o","v":2060},{"q":"2012Q2","g":"50-64 y/o","v":2300},{"q":"2012Q3","g":"50-64 y/o","v":2260},{"q":"2012Q4","g":"50-64 y/o","v":2230},{"q":"2013Q1","g":"50-64 y/o","v":2586},{"q":"2013Q2","g":"50-64 y/o","v":2050},{"q":"2013Q3","g":"50-64 y/o","v":2180},{"q":"2013Q4","g":"50-64 y/o","v":2391},{"q":"2014Q1","g":"50-64 y/o","v":2170},{"q":"2014Q2","g":"50-64 y/o","v":2555},{"q":"2014Q3","g":"50-64 y/o","v":2383},{"q":"2014Q4","g":"50-64 y/o","v":2508},
{"q":"2006Q1","g":"65-79 y/o","v":2792},{"q":"2006Q2","g":"65-79 y/o","v":2792},{"q":"2006Q3","g":"65-79 y/o","v":2975},{"q":"2006Q4","g":"65-79 y/o","v":2776},{"q":"2007Q1","g":"65-79 y/o","v":2901},{"q":"2007Q2","g":"65-79 y/o","v":2870},{"q":"2007Q3","g":"65-79 y/o","v":2819},{"q":"2007Q4","g":"65-79 y/o","v":2905},{"q":"2008Q1","g":"65-79 y/o","v":2905},{"q":"2008Q2","g":"65-79 y/o","v":2940},{"q":"2008Q3","g":"65-79 y/o","v":2854},{"q":"2008Q4","g":"65-79 y/o","v":2909},{"q":"2009Q1","g":"65-79 y/o","v":2909},{"q":"2009Q2","g":"65-79 y/o","v":2947},{"q":"2009Q3","g":"65-79 y/o","v":2967},{"q":"2009Q4","g":"65-79 y/o","v":2979},{"q":"2010Q1","g":"65-79 y/o","v":2807},{"q":"2010Q2","g":"65-79 y/o","v":2928},{"q":"2010Q3","g":"65-79 y/o","v":2920},{"q":"2010Q4","g":"65-79 y/o","v":2889},{"q":"2011Q1","g":"65-79 y/o","v":2667},{"q":"2011Q2","g":"65-79 y/o","v":2714},{"q":"2011Q3","g":"65-79 y/o","v":2730},{"q":"2011Q4","g":"65-79 y/o","v":2702},{"q":"2012Q1","g":"65-79 y/o","v":2737},{"q":"2012Q2","g":"65-79 y/o","v":2632},{"q":"2012Q3","g":"65-79 y/o","v":2730},{"q":"2012Q4","g":"65-79 y/o","v":2757},{"q":"2013Q1","g":"65-79 y/o","v":2741},{"q":"2013Q2","g":"65-79 y/o","v":2695},{"q":"2013Q3","g":"65-79 y/o","v":2722},{"q":"2013Q4","g":"65-79 y/o","v":2761},{"q":"2014Q1","g":"65-79 y/o","v":2800},{"q":"2014Q2","g":"65-79 y/o","v":2753},{"q":"2014Q3","g":"65-79 y/o","v":2823},{"q":"2014Q4","g":"65-79 y/o","v":2706},
{"q":"2006Q1","g":"80+ y/o","v":2130},{"q":"2006Q2","g":"80+ y/o","v":2170},{"q":"2006Q3","g":"80+ y/o","v":2100},{"q":"2006Q4","g":"80+ y/o","v":2120},{"q":"2007Q1","g":"80+ y/o","v":2110},{"q":"2007Q2","g":"80+ y/o","v":2140},{"q":"2007Q3","g":"80+ y/o","v":2130},{"q":"2007Q4","g":"80+ y/o","v":2070},{"q":"2008Q1","g":"80+ y/o","v":2130},{"q":"2008Q2","g":"80+ y/o","v":2190},{"q":"2008Q3","g":"80+ y/o","v":2170},{"q":"2008Q4","g":"80+ y/o","v":2200},{"q":"2009Q1","g":"80+ y/o","v":2170},{"q":"2009Q2","g":"80+ y/o","v":2250},{"q":"2009Q3","g":"80+ y/o","v":2250},{"q":"2009Q4","g":"80+ y/o","v":2200},{"q":"2010Q1","g":"80+ y/o","v":2060},{"q":"2010Q2","g":"80+ y/o","v":2120},{"q":"2010Q3","g":"80+ y/o","v":2200},{"q":"2010Q4","g":"80+ y/o","v":2190},{"q":"2011Q1","g":"80+ y/o","v":2270},{"q":"2011Q2","g":"80+ y/o","v":2270},{"q":"2011Q3","g":"80+ y/o","v":2512},{"q":"2011Q4","g":"80+ y/o","v":2442},{"q":"2012Q1","g":"80+ y/o","v":2340},{"q":"2012Q2","g":"80+ y/o","v":2519},{"q":"2012Q3","g":"80+ y/o","v":2554},{"q":"2012Q4","g":"80+ y/o","v":2508},{"q":"2013Q1","g":"80+ y/o","v":2434},{"q":"2013Q2","g":"80+ y/o","v":2617},{"q":"2013Q3","g":"80+ y/o","v":2644},{"q":"2013Q4","g":"80+ y/o","v":2481},{"q":"2014Q1","g":"80+ y/o","v":2640},{"q":"2014Q2","g":"80+ y/o","v":2624},{"q":"2014Q3","g":"80+ y/o","v":2691},{"q":"2014Q4","g":"80+ y/o","v":2628}
],
"mD":[
{"q":"2006Q1","g":"50-64 y/o","v":2020},{"q":"2006Q2","g":"50-64 y/o","v":2060},{"q":"2006Q3","g":"50-64 y/o","v":2010},{"q":"2006Q4","g":"50-64 y/o","v":1950},{"q":"2007Q1","g":"50-64 y/o","v":2144},{"q":"2007Q2","g":"50-64 y/o","v":2060},{"q":"2007Q3","g":"50-64 y/o","v":2144},{"q":"2007Q4","g":"50-64 y/o","v":2020},{"q":"2008Q1","g":"50-64 y/o","v":1900},{"q":"2008Q2","g":"50-64 y/o","v":2060},{"q":"2008Q3","g":"50-64 y/o","v":1960},{"q":"2008Q4","g":"50-64 y/o","v":2144},{"q":"2009Q1","g":"50-64 y/o","v":2090},{"q":"2009Q2","g":"50-64 y/o","v":2180},{"q":"2009Q3","g":"50-64 y/o","v":2050},{"q":"2009Q4","g":"50-64 y/o","v":2080},{"q":"2010Q1","g":"50-64 y/o","v":2010},{"q":"2010Q2","g":"50-64 y/o","v":1990},{"q":"2010Q3","g":"50-64 y/o","v":2060},{"q":"2010Q4","g":"50-64 y/o","v":1960},{"q":"2011Q1","g":"50-64 y/o","v":2010},{"q":"2011Q2","g":"50-64 y/o","v":1980},{"q":"2011Q3","g":"50-64 y/o","v":2060},{"q":"2011Q4","g":"50-64 y/o","v":2030},{"q":"2012Q1","g":"50-64 y/o","v":2060},{"q":"2012Q2","g":"50-64 y/o","v":2000},{"q":"2012Q3","g":"50-64 y/o","v":2030},{"q":"2012Q4","g":"50-64 y/o","v":2040},{"q":"2013Q1","g":"50-64 y/o","v":2060},{"q":"2013Q2","g":"50-64 y/o","v":2060},{"q":"2013Q3","g":"50-64 y/o","v":2050},{"q":"2013Q4","g":"50-64 y/o","v":2176},{"q":"2014Q1","g":"50-64 y/o","v":2040},{"q":"2014Q2","g":"50-64 y/o","v":2100},{"q":"2014Q3","g":"50-64 y/o","v":2124},{"q":"2014Q4","g":"50-64 y/o","v":2080},
{"q":"2006Q1","g":"65-79 y/o","v":2388},{"q":"2006Q2","g":"65-79 y/o","v":2435},{"q":"2006Q3","g":"65-79 y/o","v":2441},{"q":"2006Q4","g":"65-79 y/o","v":2379},{"q":"2007Q1","g":"65-79 y/o","v":2612},{"q":"2007Q2","g":"65-79 y/o","v":2379},{"q":"2007Q3","g":"65-79 y/o","v":2503},{"q":"2007Q4","g":"65-79 y/o","v":2435},{"q":"2008Q1","g":"65-79 y/o","v":2391},{"q":"2008Q2","g":"65-79 y/o","v":2574},{"q":"2008Q3","g":"65-79 y/o","v":2512},{"q":"2008Q4","g":"65-79 y/o","v":2476},{"q":"2009Q1","g":"65-79 y/o","v":2585},{"q":"2009Q2","g":"65-79 y/o","v":2506},{"q":"2009Q3","g":"65-79 y/o","v":2468},{"q":"2009Q4","g":"65-79 y/o","v":2494},{"q":"2010Q1","g":"65-79 y/o","v":2406},{"q":"2010Q2","g":"65-79 y/o","v":2544},{"q":"2010Q3","g":"65-79 y/o","v":2521},{"q":"2010Q4","g":"65-79 y/o","v":2265},{"q":"2011Q1","g":"65-79 y/o","v":2421},{"q":"2011Q2","g":"65-79 y/o","v":2479},{"q":"2011Q3","g":"65-79 y/o","v":2385},{"q":"2011Q4","g":"65-79 y/o","v":2568},{"q":"2012Q1","g":"65-79 y/o","v":2362},{"q":"2012Q2","g":"65-79 y/o","v":2529},{"q":"2012Q3","g":"65-79 y/o","v":2474},{"q":"2012Q4","g":"65-79 y/o","v":2515},{"q":"2013Q1","g":"65-79 y/o","v":2553},{"q":"2013Q2","g":"65-79 y/o","v":2488},{"q":"2013Q3","g":"65-79 y/o","v":2315},{"q":"2013Q4","g":"65-79 y/o","v":2585},{"q":"2014Q1","g":"65-79 y/o","v":2535},{"q":"2014Q2","g":"65-79 y/o","v":2506},{"q":"2014Q3","g":"65-79 y/o","v":2500},{"q":"2014Q4","g":"65-79 y/o","v":2588},
{"q":"2006Q1","g":"80+ y/o","v":2040},{"q":"2006Q2","g":"80+ y/o","v":2110},{"q":"2006Q3","g":"80+ y/o","v":2144},{"q":"2006Q4","g":"80+ y/o","v":2100},{"q":"2007Q1","g":"80+ y/o","v":2110},{"q":"2007Q2","g":"80+ y/o","v":2070},{"q":"2007Q3","g":"80+ y/o","v":2209},{"q":"2007Q4","g":"80+ y/o","v":2100},{"q":"2008Q1","g":"80+ y/o","v":2080},{"q":"2008Q2","g":"80+ y/o","v":2120},{"q":"2008Q3","g":"80+ y/o","v":2153},{"q":"2008Q4","g":"80+ y/o","v":2212},{"q":"2009Q1","g":"80+ y/o","v":2110},{"q":"2009Q2","g":"80+ y/o","v":2244},{"q":"2009Q3","g":"80+ y/o","v":2168},{"q":"2009Q4","g":"80+ y/o","v":2171},{"q":"2010Q1","g":"80+ y/o","v":2090},{"q":"2010Q2","g":"80+ y/o","v":2040},{"q":"2010Q3","g":"80+ y/o","v":2070},{"q":"2010Q4","g":"80+ y/o","v":2090},{"q":"2011Q1","g":"80+ y/o","v":2188},{"q":"2011Q2","g":"80+ y/o","v":2324},{"q":"2011Q3","g":"80+ y/o","v":2456},{"q":"2011Q4","g":"80+ y/o","v":2332},{"q":"2012Q1","g":"80+ y/o","v":2338},{"q":"2012Q2","g":"80+ y/o","v":2326},{"q":"2012Q3","g":"80+ y/o","v":2474},{"q":"2012Q4","g":"80+ y/o","v":2474},{"q":"2013Q1","g":"80+ y/o","v":2474},{"q":"2013Q2","g":"80+ y/o","v":2491},{"q":"2013Q3","g":"80+ y/o","v":2594},{"q":"2013Q4","g":"80+ y/o","v":2506},{"q":"2014Q1","g":"80+ y/o","v":2512},{"q":"2014Q2","g":"80+ y/o","v":2541},{"q":"2014Q3","g":"80+ y/o","v":2441},{"q":"2014Q4","g":"80+ y/o","v":2629}
]
}
}
